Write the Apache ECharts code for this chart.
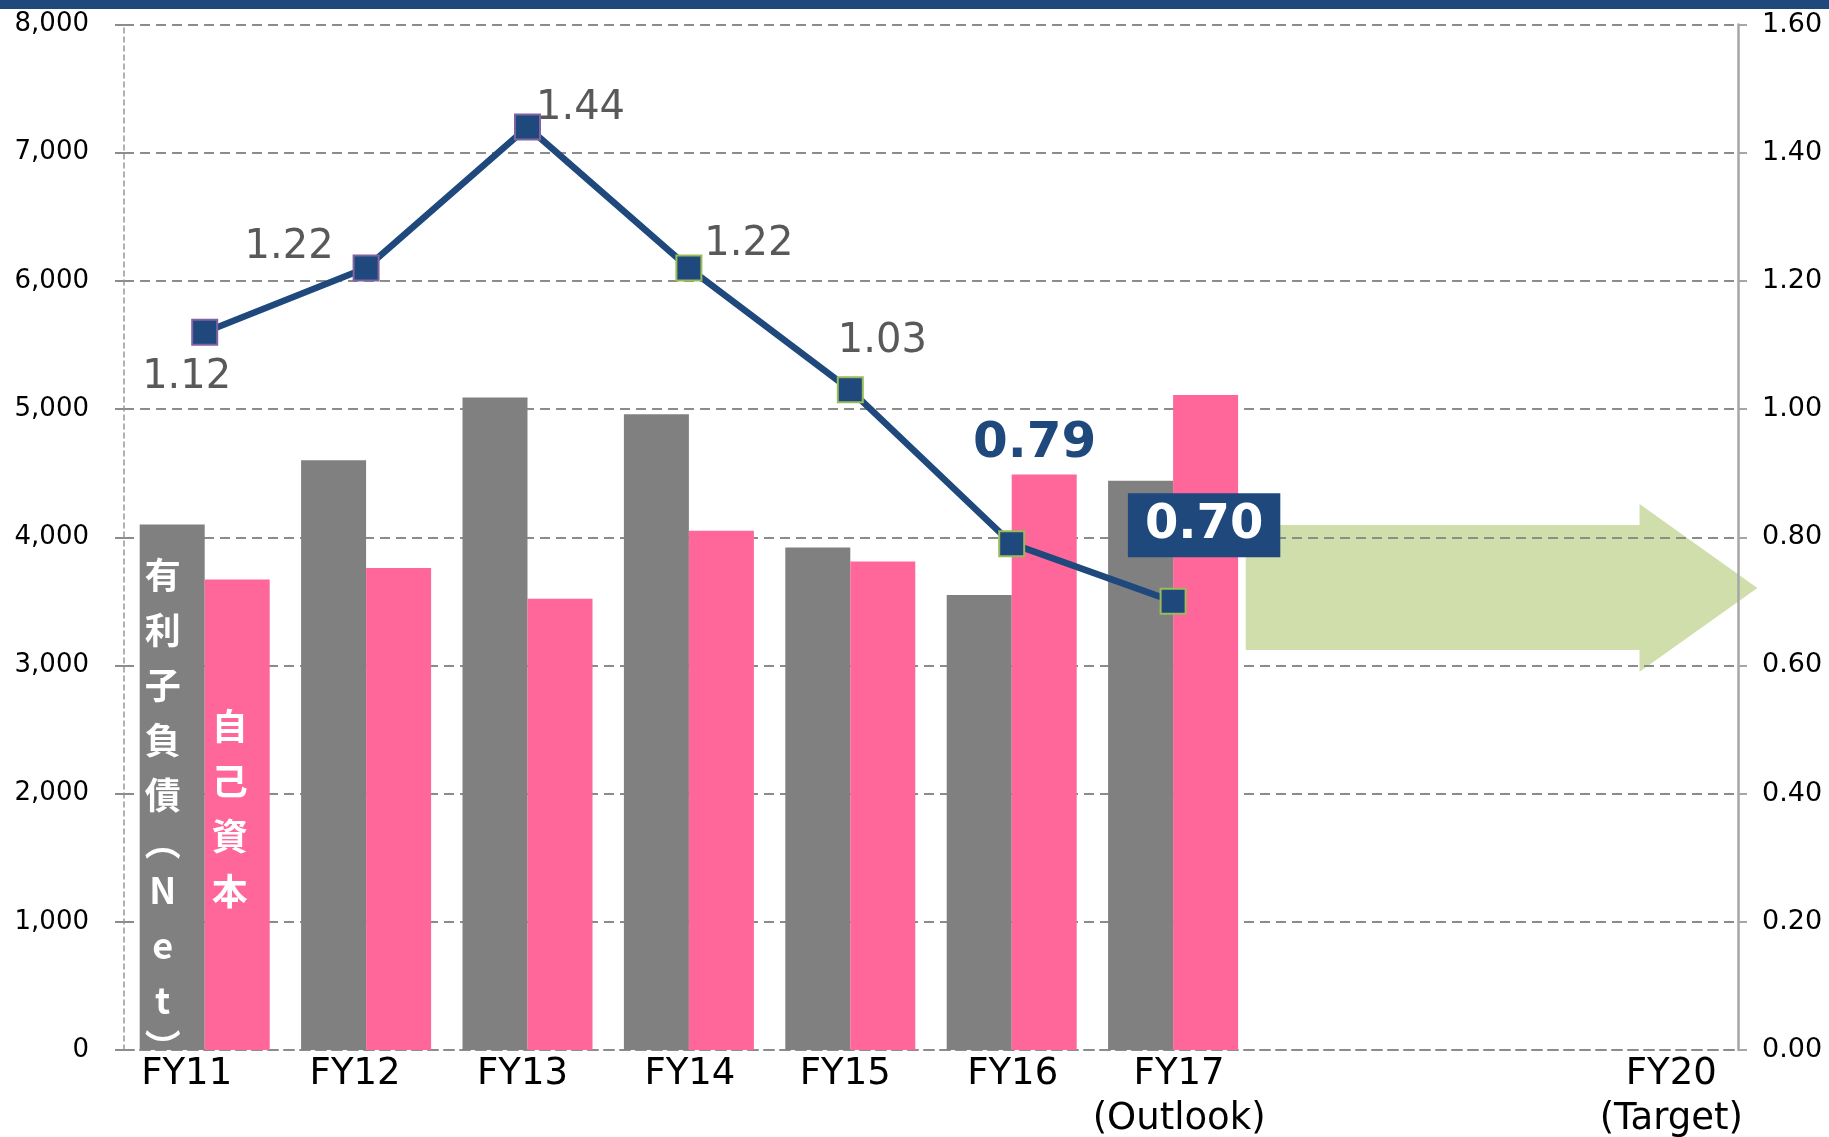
<!DOCTYPE html>
<html>
<head>
<meta charset="utf-8">
<script src="https://cdn.jsdelivr.net/npm/echarts@6.0.0/dist/echarts.min.js"></script>
<style>
html, body { margin: 0; padding: 0; background: #fff; }
#chart { width: 1829px; height: 1137px; }
</style>
</head>
<body>
<div id="chart"></div>
<script>
// data
const categories = ['FY11', 'FY12', 'FY13', 'FY14', 'FY15', 'FY16', 'FY17\n(Outlook)', '', '', 'FY20\n(Target)']
const debtNet = [4100, 4600, 5090, 4960, 3920, 3550, 4440]
const equity = [3670, 3760, 3520, 4050, 3810, 4490, 5110]
const deRatio = [1.12, 1.22, 1.44, 1.22, 1.03, 0.79, 0.70]

const NAVY = '#1F497D'
const GRID_LINE = { color: '#8C8C8C', width: 2, type: [10, 6] }
const baseFont = 'DejaVu Sans'
const cjkFont = 'Noto Sans CJK JP'

// the category labels in the original sit a bit off their centres
const labelShift = [-18, -11, -5, 1, -5, 1, 6, 0, 0, 14]

// label placement for each ratio point (offset from the marker centre)
const ratioLabels = [
  { offset: [-18, 45] },
  { offset: [-77, -20] },
  { offset: [53, -18] },
  { offset: [60, -23] },
  { offset: [32, -48] },
  { offset: [23, -100], color: NAVY, fontWeight: 'bold', fontSize: 50 },
  { offset: [31, -76], color: '#fff', fontWeight: 'bold', fontSize: 48, lineHeight: 48,
    backgroundColor: NAVY, padding: [8, 17, 8, 17] }
]

const vChar = { fontFamily: cjkFont, fontSize: 36, fontWeight: 'bold', color: '#fff', lineHeight: 55 }
const vParen = Object.assign({}, vChar, { lineHeight: 40 })

let chart = echarts.init(document.getElementById('chart'))

let option = {
  animation: false,
  textStyle: { fontFamily: baseFont },
  grid: { left: 124, right: 91, top: 24.5, bottom: 87, containLabel: false, outerBoundsMode: 'none' },
  xAxis: {
    type: 'category',
    data: categories.map((c, i) => ({
      value: c,
      textStyle: labelShift[i] < 0
        ? { padding: [0, -2 * labelShift[i], 0, 0] }
        : { padding: [0, 0, 0, 2 * labelShift[i]] }
    })),
    axisLine: { show: true, lineStyle: GRID_LINE },
    axisTick: { show: false },
    axisLabel: { interval: 0, color: '#000', fontSize: 37, lineHeight: 45, margin: 2 }
  },
  yAxis: [
    {
      type: 'value',
      min: 0,
      max: 8000,
      interval: 1000,
      axisLine: { show: true, lineStyle: { color: '#999', width: 1.5, type: [5, 4] } },
      axisTick: { show: true, length: 9, lineStyle: { color: '#8C8C8C', width: 2 } },
      axisLabel: {
        color: '#000',
        fontSize: 26,
        margin: 35,
        formatter: v => v.toLocaleString('en-US')
      },
      splitLine: { show: true, lineStyle: GRID_LINE }
    },
    {
      type: 'value',
      min: 0,
      max: 1.6,
      interval: 0.2,
      position: 'right',
      axisLine: { show: true, lineStyle: { color: '#A6A6A6', width: 2.5 } },
      axisTick: { show: true, length: 9, lineStyle: { color: '#A6A6A6', width: 2 } },
      axisLabel: {
        color: '#000',
        fontSize: 27,
        margin: 24,
        formatter: v => v.toFixed(2)
      },
      splitLine: { show: false }
    }
  ],
  series: [
    {
      name: '有利子負債（Net）',
      type: 'bar',
      barWidth: 65,
      barGap: 0,
      itemStyle: { color: '#808080' },
      data: debtNet.map((v, i) => i === 0 ? {
        value: v,
        label: {
          show: true,
          position: [23, 23],
          align: 'center',
          verticalAlign: 'top',
          formatter: '{c|有}\n{c|利}\n{c|子}\n{c|負}\n{c|債}\n{p|︵}\n{c|N}\n{c|e}\n{c|t}\n{p|︶}',
          rich: { c: vChar, p: vParen }
        }
      } : v)
    },
    {
      name: '自己資本',
      type: 'bar',
      barWidth: 65,
      barGap: 0,
      itemStyle: { color: '#FF6699' },
      data: equity.map((v, i) => i === 0 ? {
        value: v,
        label: {
          show: true,
          position: [25, 119],
          align: 'center',
          verticalAlign: 'top',
          formatter: '{c|自}\n{c|己}\n{c|資}\n{c|本}',
          rich: { c: vChar }
        }
      } : v)
    },
    {
      name: 'D/Eレシオ',
      type: 'line',
      yAxisIndex: 1,
      symbol: 'rect',
      symbolSize: 25,
      z: 5,
      lineStyle: { color: NAVY, width: 6.5 },
      label: {
        show: true,
        position: 'inside',
        color: '#595959',
        fontSize: 40,
        fontFamily: baseFont,
        formatter: p => p.value.toFixed(2)
      },
      data: deRatio.map((v, i) => ({
        value: v,
        itemStyle: { color: NAVY, borderColor: i < 3 ? '#8064A2' : '#9BBB59', borderWidth: 2 },
        label: ratioLabels[i]
      }))
    }
  ]
}

chart.setOption(option)

// arrow toward the FY20 target, placed through the axes
let px = i => chart.convertToPixel({ xAxisIndex: 0 }, i)
let py = v => chart.convertToPixel({ yAxisIndex: 1 }, v)
let cw = px(1) - px(0)
let x0 = px(6) + 0.45 * cw
let x1 = px(9) - 0.11 * cw
let x2 = px(9) + 0.62 * cw
let arrow = [
  [x0, py(0.819)], [x1, py(0.819)], [x1, py(0.852)], [x2, py(0.721)],
  [x1, py(0.590)], [x1, py(0.624)], [x0, py(0.624)]
]

chart.setOption({
  graphic: [
    { type: 'rect', left: 0, top: 0, z: 100, shape: { width: 1829, height: 9 }, style: { fill: NAVY } },
    { type: 'polygon', z: -10, shape: { points: arrow }, style: { fill: '#CFDEAB' } }
  ]
})
</script>
</body>
</html>
